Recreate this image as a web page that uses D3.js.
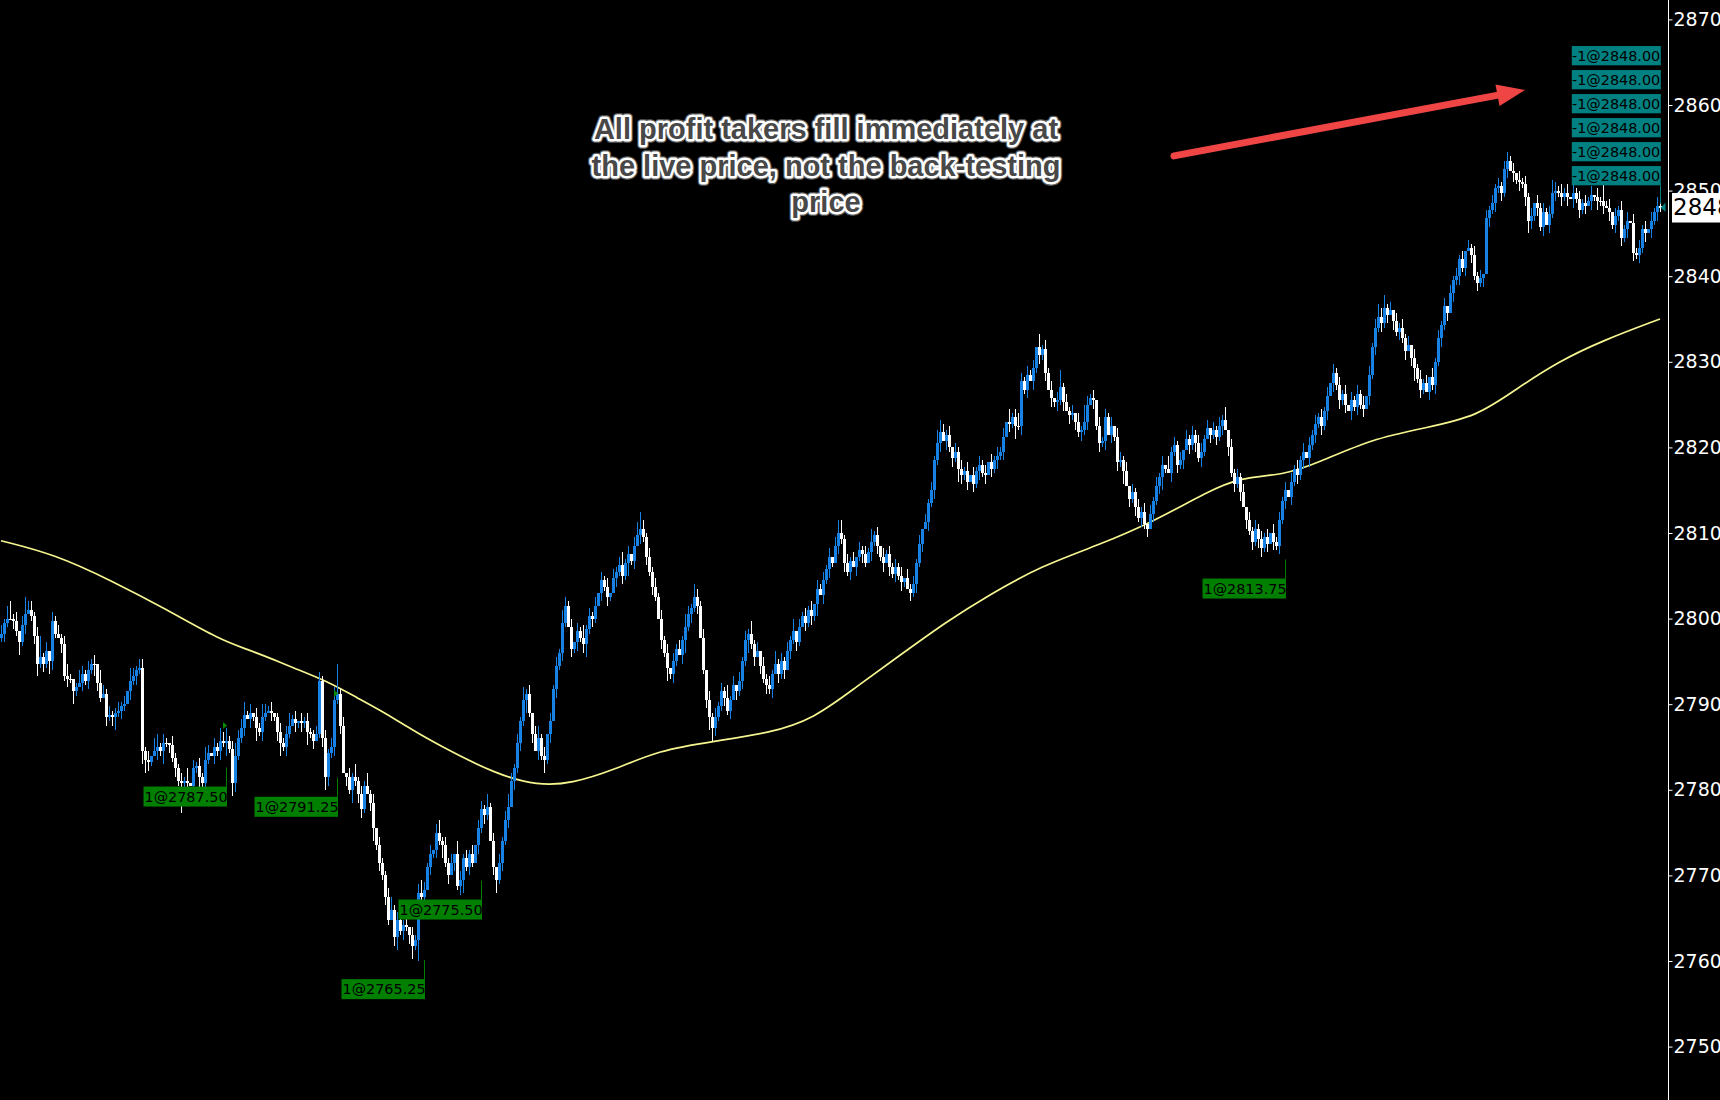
<!DOCTYPE html>
<html><head><meta charset="utf-8">
<script src="https://cdn.jsdelivr.net/npm/d3@7/dist/d3.min.js"></script>
<style>html,body{margin:0;padding:0;background:#000;overflow:hidden}</style>
</head><body><svg id="c" width="1720" height="1100"></svg>
<script>
// ---- data ----
const firstOpen = 2797.75;
const closes = [
2798.25,2799.5,2800,2800,2799.75,2798.5,2797.25,2799.25,2800.5,2801,
2800.25,2798,2794.75,2795.5,2794.75,2796.25,2795,2799.75,2798.25,2797.75,
2797,2793.25,2793,2793,2791.5,2792,2792.5,2793.5,2792.75,2794,
2794.75,2794.75,2792.5,2790.75,2791.25,2788.5,2788.75,2788.5,2789,2789.25,
2789.75,2790,2791.5,2792.75,2793.25,2794,2794.25,2784.5,2783.5,2783.25,
2784,2784.5,2785,2784.5,2785.5,2785.5,2785.25,2783.75,2782.5,2781,
2780.75,2781,2780.75,2780.5,2782.5,2782.75,2781.5,2780.75,2783.5,2784.25,
2784,2785,2784.5,2785.75,2785.5,2785.75,2784.75,2780.75,2784,2786,
2787.25,2788.75,2788.25,2789,2788.5,2787.25,2786.75,2788.5,2789,2789.25,
2789,2788.5,2786.75,2785.5,2785,2786.5,2787.5,2788.25,2787.75,2788,
2787.75,2788,2786.75,2786.5,2785.75,2786.5,2792.75,2786,2781.5,2784.25,
2785,2790.5,2791.25,2787.5,2782,2781.5,2780,2781.5,2781,2779.5,
2777.75,2780.5,2779.5,2778.5,2775.5,2773.5,2771.5,2770,2767.5,2764.75,
2766,2762.75,2764.75,2763.5,2764.25,2764,2763,2761.75,2762.5,2768,
2767.5,2768.25,2771,2772.5,2773,2775,2774,2773.5,2771.5,2770,
2771.5,2772.5,2768.75,2769.5,2772,2771,2772.5,2771.5,2773.5,2775.5,
2777.75,2777,2778,2774,2771,2769.5,2771.5,2774,2776.5,2778,
2781,2782.5,2785.5,2788,2790.5,2791.25,2789,2786.5,2784.5,2786,
2784,2783.5,2786.5,2788,2791.75,2794.5,2796,2799.5,2801.5,2799,
2796.5,2797.25,2798.5,2797.75,2797,2798.75,2800.25,2800,2801.5,2803,
2804.5,2803.75,2802.5,2803,2804.75,2805.5,2806.25,2805,2806.5,2807.5,
2806.75,2808.5,2809.75,2810.5,2809.5,2807.25,2805.5,2803.75,2802.5,2800,
2797.5,2796,2794.25,2793.5,2795,2796.5,2795.75,2797.5,2799,2800.5,
2801.25,2802.5,2801.5,2797.75,2794,2790.5,2788.5,2787.25,2788.5,2789.75,
2791.5,2790.75,2789.25,2790.5,2792.25,2791.5,2792.75,2795,2797.5,2798.25,
2797,2795.5,2796.25,2794.5,2793,2792.25,2791.75,2793.5,2794.75,2793.5,
2795,2794,2796.25,2797.5,2798.5,2797.25,2799,2800.25,2799.5,2801,
2800.25,2801.75,2803.5,2802.75,2804.5,2805.75,2807.25,2806.5,2808.5,2810,
2809.25,2806.5,2805.5,2806.75,2806,2807.25,2808,2807.5,2806.5,2807.75,
2809,2809.75,2808.5,2807.25,2806.5,2807.5,2806,2805.25,2806,2805,
2804.25,2804.75,2803.5,2803,2804,2806.5,2808.75,2810.5,2811.25,2813.5,
2815,2818.5,2820.5,2821.75,2820.75,2821.5,2820,2818.75,2819.5,2817.5,
2816.75,2817.25,2816,2816.75,2815.75,2817.25,2818,2817,2816.75,2818.25,
2817.5,2818.5,2819,2819.5,2821.25,2823,2822.75,2823.5,2822.5,2822.5,
2827.75,2826.75,2828.5,2827.75,2829.25,2831.75,2830.75,2831.5,2828.75,2826.75,
2825.75,2825.25,2825.5,2827,2825.25,2824.25,2823.75,2824,2823,2821.75,
2822,2823,2825,2825.75,2825.5,2822.5,2820.5,2820.75,2823.5,2821.5,
2822.5,2821.25,2818.25,2818.5,2817.25,2815.5,2814,2814.75,2813,2811.75,
2812.5,2811,2810.5,2812.25,2813.75,2815.5,2816.5,2818,2817.5,2817,
2819.5,2820.25,2818,2818.5,2819.75,2821,2820.25,2821.5,2820.5,2818.75,
2819.5,2821,2822.25,2821.5,2822,2821.25,2822.5,2823.25,2822,2820,
2817,2815.75,2816.5,2814.75,2813,2811.5,2810.25,2809,2810.5,2809.25,
2808.25,2809.5,2808.75,2810,2809,2808.5,2811.5,2813.75,2815,2814.25,
2816,2817.5,2816.75,2818.5,2819.5,2818.75,2820.25,2821.5,2822.75,2823.5,
2822.5,2824.25,2826,2827.5,2828.75,2827.25,2825.5,2826.25,2825,2824.25,
2825.5,2824.75,2826.25,2825,2824.5,2826,2828.5,2831.75,2834,2835.25,
2834.5,2836.25,2835.5,2836,2834.75,2833.5,2834,2832.75,2831.25,2832,
2830.5,2829.25,2828,2826.75,2827.5,2826.5,2828.25,2827.25,2830,2832.75,
2834.25,2836.5,2835.75,2838,2839.5,2840,2842,2841,2843,2843.25,
2842.5,2840,2839.25,2839.75,2840.25,2846.75,2847.75,2848.5,2850.25,2850.5,
2849.75,2852.5,2853.5,2852.25,2852,2851.25,2851,2850.75,2849.25,2846.5,
2847,2848.5,2848,2845.75,2847.5,2846,2847.25,2849.75,2850,2849.75,
2849.25,2849.75,2849.25,2849,2849.75,2849,2847.75,2848.5,2848.25,2848.75,
2849.5,2849.25,2848.75,2848.75,2848.25,2848,2847.5,2846,2847,2847.75,
2844.5,2845.5,2846.5,2846.25,2842.75,2842.5,2843.25,2845.5,2845,2845.5,
2846.5,2847.5,2848.25,2848
];
// wick lengths beyond the body, in half points
const hiW = [
2,1,3,4,1,2,0,2,4,2,2,1,2,5,1,2,0,2,1,2,
1,2,3,1,0,1,3,2,1,2,1,2,0,3,2,1,2,1,1,2,
1,2,0,3,2,1,2,2,1,2,0,3,3,1,2,1,0,2,1,1,
2,1,3,0,2,1,2,1,3,2,0,2,1,3,2,3,1,2,3,2,
2,3,1,2,0,2,1,3,2,1,2,0,1,2,1,2,3,1,2,0,
2,1,2,1,1,2,2,1,2,1,2,3,7,1,2,0,2,1,3,1,
2,1,3,1,2,0,2,1,1,2,3,1,2,3,1,2,0,2,1,2,
3,2,1,2,0,2,3,1,2,1,2,0,3,2,1,2,1,2,0,2,
2,1,3,1,2,0,2,1,2,3,2,1,2,1,3,1,2,0,2,3,
1,2,0,2,1,2,1,3,2,1,2,0,2,1,3,1,2,1,2,0,
2,1,2,0,2,1,2,3,1,2,0,2,3,4,2,1,2,1,2,1,
2,1,2,0,2,1,2,1,3,2,1,3,2,1,2,0,2,1,2,1,
2,1,3,1,2,0,2,1,2,1,3,1,2,0,2,1,2,1,3,1,
2,1,2,1,3,0,2,1,2,1,2,0,2,1,2,1,2,0,2,3,
3,1,2,1,2,0,2,1,2,1,3,1,2,0,2,1,2,1,2,1,
2,0,2,1,2,1,2,0,2,1,2,1,3,3,2,1,2,0,2,1,
2,1,2,0,2,1,2,1,2,0,2,1,2,1,2,0,3,1,2,3,
2,1,2,1,2,0,3,1,2,1,2,0,2,4,1,2,1,2,0,2,
1,4,2,1,2,0,2,1,2,1,2,0,2,2,1,2,0,2,1,2,
1,2,0,2,1,2,1,2,0,3,1,2,1,2,0,2,1,2,1,2,
2,1,2,0,2,1,2,1,3,0,2,1,2,1,2,0,2,1,2,1,
2,1,2,0,2,1,2,1,2,0,2,1,2,1,2,0,2,1,2,1,
2,1,2,0,2,1,2,1,2,0,2,1,2,1,2,0,2,1,2,3,
2,3,1,2,0,2,1,2,1,2,0,2,1,2,1,2,0,2,1,2,
1,2,0,2,1,2,1,2,0,2,1,2,1,2,0,2,1,2,1,2,
1,2,2,1,2,0,2,1,2,1,2,0,2,1,2,1,2,3,2,1,
2,1,2,0,2,1,2,1,2,1,2,0,2,1,4,1,2,0,2,1,
2,1,2,0,2,1,2,1,2,0,2,1,2,1
];
const loW = [
1,2,1,0,2,1,3,1,2,0,1,2,3,1,2,1,3,2,1,0,
2,1,2,1,3,1,0,2,1,2,1,3,2,1,0,2,1,2,3,1,
2,1,0,2,1,2,1,3,3,2,1,0,2,1,3,1,2,1,2,1,
7,1,2,0,2,1,3,1,2,1,0,2,1,2,1,3,1,3,2,1,
1,2,0,2,1,3,1,2,1,0,2,1,2,3,1,2,1,0,2,1,
2,1,3,1,2,0,1,2,3,2,1,2,1,2,0,2,1,3,1,2,
2,1,0,2,3,1,2,1,2,1,0,2,3,1,2,1,2,3,1,5,
1,2,0,2,1,2,1,3,1,2,0,2,1,2,3,1,2,1,0,2,
1,2,1,0,2,3,1,2,1,2,0,2,1,2,1,3,1,2,0,2,
1,3,1,2,0,2,1,2,1,0,2,1,2,1,2,3,1,2,1,0,
2,1,2,1,0,2,1,2,1,3,1,2,0,2,1,2,1,2,1,0,
2,1,3,1,2,1,0,2,3,1,2,1,2,0,1,2,3,3,2,1,
1,2,1,2,0,2,1,2,1,3,1,2,0,2,1,2,1,2,0,2,
1,2,0,2,1,2,1,0,2,1,2,1,3,0,2,1,2,1,0,2,
1,2,1,2,0,2,1,2,1,0,2,1,2,1,2,0,2,1,2,1,
2,1,0,2,1,2,1,2,0,2,1,2,1,2,0,2,1,2,1,3,
2,1,2,0,2,1,2,1,2,0,2,1,2,1,2,0,2,1,3,1,
2,1,2,0,2,1,2,1,2,0,2,1,2,1,2,0,2,1,2,1,
2,1,2,0,2,1,2,1,2,0,2,1,2,1,3,0,2,1,2,1,
2,1,2,0,2,1,2,3,1,0,2,1,2,1,2,0,2,1,2,1,
2,1,0,2,1,2,1,2,0,2,1,2,1,2,0,2,1,2,1,2,
2,1,2,0,2,1,2,1,2,0,2,1,2,1,2,0,2,1,2,1,
2,1,2,0,2,1,2,1,2,0,2,1,2,1,2,0,2,1,2,1,
2,1,2,0,2,1,2,1,2,0,2,3,1,2,1,0,2,1,2,1,
2,1,2,0,2,1,2,1,2,0,2,1,2,1,2,0,2,1,2,1,
2,1,2,0,2,1,2,1,2,3,2,1,2,1,2,0,2,1,2,1,
2,1,2,0,2,1,2,1,2,0,2,1,2,1,2,0,2,1,2,1,
2,1,2,0,2,1,2,1,2,0,2,1,2,1
];
// moving average (yellow) sampled at bar indexes
const maBars = [0,18,37,55,73,83,91,97,108,119,128,137,146,165,179,190,205,219,238,256,271,285,300,315,329,347,366,384,402,413,428,439,457,475,492,505,519,534,553];
const maVals = [2809.1,2807.5,2804.4,2801.1,2797.5,2796.3,2795.2,2794.3,2792.8,2790.7,2789.0,2787.0,2785.2,2781.8,2780.5,2780.7,2782.4,2784.6,2785.7,2786.6,2788.3,2792.0,2795.8,2799.6,2802.7,2806.2,2808.6,2811.3,2814.8,2816.5,2816.8,2818.2,2821.0,2822.3,2823.6,2826.8,2830.0,2832.5,2835.0];
const yTicks = [2750,2760,2770,2780,2790,2800,2810,2820,2830,2840,2850,2860,2870];
// buy fills
const fillLabels = ["1@2787.50","1@2791.25","1@2775.50","1@2765.25","1@2813.75"];
const fillBars = [75,112,160,141,428];
const fillLows = [2782.6,2781.4,2769.4,2760.1,2806.9];
const fillMarkBars = [74,111];
const fillMarkPrices = [2787.5,2791.25];
// profit-taker exits
const exitLabels = ["-1@2848.00","-1@2848.00","-1@2848.00","-1@2848.00","-1@2848.00","-1@2848.00"];
const exitPrice = 2848;
const lastPrice = 2848;
const lastPriceText = "2848";
// annotation
const noteLines = ["All profit takers fill immediately at","the live price, not the back-testing","price"];
const noteBar = 275, notePrice = 2856.0;
const arrowFrom = [391, 2854.05], arrowTo = [508, 2861.75];

// ---- drawing ----
const W = 1720, H = 1100, axisX = 1668.5;
const svg = d3.select("#c");
svg.append("rect").attr("width",W).attr("height",H).attr("fill","#000");
const x = d3.scaleLinear().domain([0,554]).range([1,1663]);
const y = d3.scaleLinear().domain([2750,2870]).range([1046.6,19.4]);
const wickUnit = 0.5;
const bars = closes.map((c,i)=>{
  const o = i ? closes[i-1] : firstOpen;
  const h = Math.max(o,c) + (hiW[i] ?? 1)*wickUnit;
  const l = Math.min(o,c) - (loW[i] ?? 1)*wickUnit;
  return {i,o,h,l,c};
});
const UP = "#1682e6", DN = "#ffffff";

// moving average
const ma = maBars.map((b,k)=>[b,maVals[k]]);
svg.append("path").datum(ma)
  .attr("d", d3.line().x(d=>x(d[0])).y(d=>y(d[1])).curve(d3.curveBasis))
  .attr("fill","none").attr("stroke","#f6f690").attr("stroke-width",1.7);

// candles
const cg = svg.append("g").attr("shape-rendering","crispEdges");
const cs = cg.selectAll("g").data(bars).join("g")
  .attr("fill", d=> d.c>d.o ? UP : DN);
cs.append("rect").attr("x",d=>x(d.i)).attr("width",1)
  .attr("y",d=>y(d.h)).attr("height",d=>Math.max(1,y(d.l)-y(d.h)));
cs.append("rect").attr("x",d=>x(d.i)-1).attr("width",3)
  .attr("y",d=>y(Math.max(d.o,d.c))).attr("height",d=>Math.max(1,y(Math.min(d.o,d.c))-y(Math.max(d.o,d.c))));

// fill markers (small green triangles)
fillMarkBars.forEach((b,k)=>{
  const px = x(b), py = y(fillMarkPrices[k]);
  svg.append("path").attr("d",`M${px},${py-3.5}L${px+4},${py}L${px},${py+3.5}Z`).attr("fill","#0a8a0a");
});

// buy labels
const GREEN = "#007f00";
fillLabels.forEach((t,k)=>{
  const lx = x(fillBars[k]) + 0.5;
  const ly = y(fillLows[k]);
  const top = ly + 19;
  svg.append("line").attr("x1",lx).attr("x2",lx).attr("y1",ly).attr("y2",top).attr("stroke",GREEN).attr("stroke-width",1);
  svg.append("rect").attr("x",lx-83).attr("y",top).attr("width",83.5).attr("height",20).attr("fill",GREEN);
  svg.append("text").attr("x",lx-82).attr("y",top+15.3).text(t)
    .attr("font-family","DejaVu Sans").attr("font-size",14.4).attr("fill","#000");
});

// exit labels (teal)
const TEAL = "#008080";
const lastBar = closes.length-1;
const ex = x(lastBar)+0.5;
const ey = y(exitPrice);
exitLabels.forEach((t,k)=>{
  const top = ey - 22.4 - 19.3 - (exitLabels.length-1-k)*24;
  svg.append("rect").attr("x",ex-88.7).attr("y",top).attr("width",89).attr("height",19.3).attr("fill",TEAL);
  svg.append("text").attr("x",ex-88.5).attr("y",top+15).text(t)
    .attr("font-family","DejaVu Sans").attr("font-size",14.4).attr("fill","#000");
});
svg.append("line").attr("x1",ex).attr("x2",ex).attr("y1",ey-22.4).attr("y2",ey-4).attr("stroke",TEAL).attr("stroke-width",1);
svg.append("path").attr("d",`M${ex},${ey}L${ex+5},${ey-5}L${ex+5},${ey+4}Z`).attr("fill",TEAL);

// annotation text
const ng = svg.append("g").attr("font-family","'Liberation Sans', Arial, sans-serif")
  .attr("font-weight","bold").attr("font-size",29).attr("text-anchor","middle");
const nx = x(noteBar), ny = y(notePrice);
[["#5c5c5c",7.5,"none"],["#ffffff",5,"none"],["none",0,"#484848"]].forEach(([st,sw,fl])=>{
  noteLines.forEach((t,k)=>{
    ng.append("text").attr("x",nx).attr("y",ny+k*36.3).text(t)
      .attr("fill",fl).attr("stroke",st).attr("stroke-width",sw).attr("stroke-linejoin","round");
  });
});

// red arrow
const ax1 = x(arrowFrom[0]), ay1 = y(arrowFrom[1]), ax2 = x(arrowTo[0]), ay2 = y(arrowTo[1]);
const ang = Math.atan2(ay2-ay1, ax2-ax1);
const hl = 28, hw = 11;
const bx = ax2 - hl*Math.cos(ang), by = ay2 - hl*Math.sin(ang);
svg.append("line").attr("x1",ax1).attr("y1",ay1).attr("x2",bx+2*Math.cos(ang)).attr("y2",by+2*Math.sin(ang))
  .attr("stroke","#f04545").attr("stroke-width",7).attr("stroke-linecap","round");
svg.append("path").attr("d",`M${ax2},${ay2}L${bx - hw*Math.sin(ang)},${by + hw*Math.cos(ang)}L${bx + hw*Math.sin(ang)},${by - hw*Math.cos(ang)}Z`)
  .attr("fill","#f04545");

// price axis
svg.append("line").attr("x1",axisX).attr("x2",axisX).attr("y1",0).attr("y2",H).attr("stroke","#fff").attr("stroke-width",1);
const axis = svg.append("g").attr("transform",`translate(${axisX},0)`)
  .call(d3.axisRight(y).tickValues(yTicks).tickSize(4).tickPadding(1).tickFormat(d3.format("d")));
axis.select(".domain").remove();
axis.selectAll("line").attr("stroke","#fff");
axis.selectAll("text").attr("fill","#fff").attr("font-family","DejaVu Sans").attr("font-size",19);

// last price box
const ly = y(lastPrice);
svg.append("rect").attr("x",1672).attr("y",ly-14.7).attr("width",48).attr("height",29.5).attr("fill","#fff");
svg.append("text").attr("x",1673).attr("y",ly+7.5).text(lastPriceText)
  .attr("font-family","DejaVu Sans").attr("font-size",23).attr("fill","#000");
</script></body></html>
